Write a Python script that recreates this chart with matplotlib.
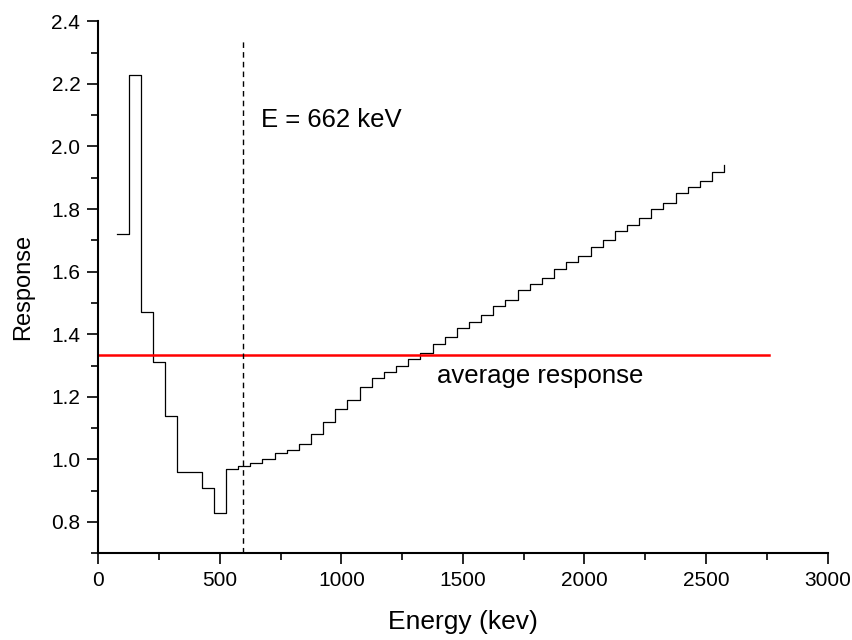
import matplotlib
matplotlib.use("Agg")
import matplotlib.pyplot as plt
from matplotlib.ticker import MultipleLocator

plt.rcParams["font.family"] = ["Liberation Sans", "DejaVu Sans"]

# bin lower edges (keV) and response in each bin
energy = [75, 125, 175, 225, 275, 325, 375, 425, 475, 525,
          575, 625, 675, 725, 775, 825, 875, 925, 975, 1025,
          1075, 1125, 1175, 1225, 1275, 1325, 1375, 1425, 1475, 1525,
          1575, 1625, 1675, 1725, 1775, 1825, 1875, 1925, 1975, 2025,
          2075, 2125, 2175, 2225, 2275, 2325, 2375, 2425, 2475, 2525,
          2575]
response = [1.72, 2.23, 1.47, 1.31, 1.14, 0.96, 0.96, 0.91, 0.83, 0.97,
            0.98, 0.99, 1.00, 1.02, 1.03, 1.05, 1.08, 1.12, 1.16, 1.19,
            1.23, 1.26, 1.28, 1.30, 1.32, 1.34, 1.37, 1.39, 1.42, 1.44,
            1.46, 1.49, 1.51, 1.54, 1.56, 1.58, 1.61, 1.63, 1.65, 1.68,
            1.70, 1.73, 1.75, 1.77, 1.80, 1.82, 1.85, 1.87, 1.89, 1.92,
            1.94]

avg_response = 1.335
avg_range = [0, 2760]
marker_energy = 595
marker_top = 2.34

fig = plt.figure(figsize=(8.52, 6.4), dpi=100)
ax = fig.add_axes([0.1154, 0.1355, 0.8559, 0.8312])

ax.plot(energy, response, drawstyle="steps-post", color="black", linewidth=0.9)
ax.plot(avg_range, [avg_response, avg_response], color="#ff0000", linewidth=1.8)
ax.vlines(marker_energy, 0.7, marker_top, colors="black", linestyles=(0, (4, 3)), linewidth=1.0)

ax.text(670, 2.063, "E = 662 keV", fontsize=18.5, ha="left", va="baseline")
ax.text(1395, 1.244, "average response", fontsize=18.5, ha="left", va="baseline")

ax.set_xlim(0, 3000)
ax.set_ylim(0.7, 2.4)
ax.xaxis.set_major_locator(MultipleLocator(500))
ax.xaxis.set_minor_locator(MultipleLocator(250))
ax.yaxis.set_major_locator(MultipleLocator(0.2))
ax.yaxis.set_minor_locator(MultipleLocator(0.1))
ax.yaxis.set_major_formatter(matplotlib.ticker.FormatStrFormatter("%.1f"))

for side in ["top", "right"]:
    ax.spines[side].set_visible(False)
for side in ["left", "bottom"]:
    ax.spines[side].set_linewidth(1.5)

ax.tick_params(which="major", direction="out", length=8, width=1.2, labelsize=15, pad=5)
ax.tick_params(which="minor", direction="out", length=5, width=1.2)

ax.set_xlabel("Energy (kev)", fontsize=19, labelpad=14)
ax.set_ylabel("Response", fontsize=17, labelpad=12)

fig.savefig("out.png", dpi=100)
